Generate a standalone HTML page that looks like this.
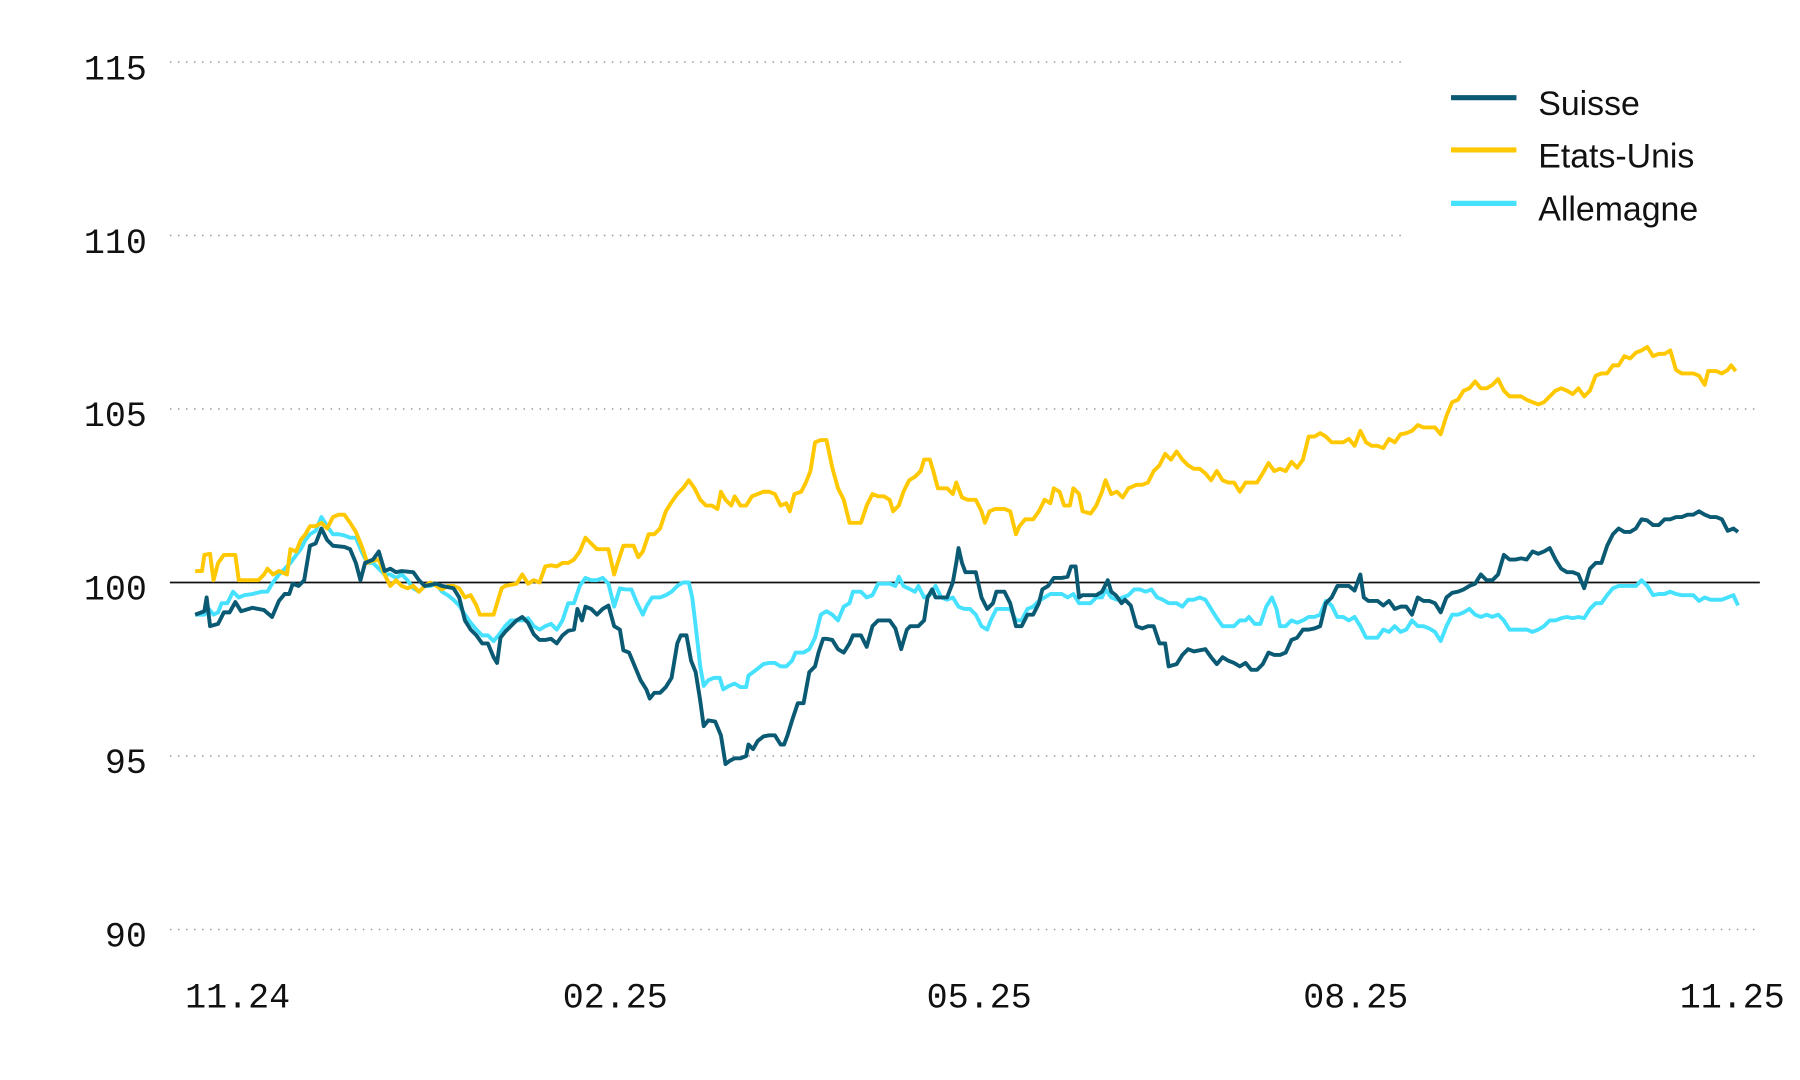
<!DOCTYPE html>
<html><head><meta charset="utf-8"><style>
html,body{margin:0;padding:0;background:#fff;}
svg{display:block}
.t{font-family:"Liberation Mono",monospace;font-size:30.5px;fill:#111}
.l{font-family:"Liberation Sans",sans-serif;font-size:29.5px;fill:#111}
.g{stroke:#999;stroke-width:1.3;stroke-dasharray:1.3 5.7}
.s{fill:none;stroke-width:3.4;stroke-linejoin:round}
</style></head><body>
<svg width="1800" height="1080" viewBox="0 0 1568 940" preserveAspectRatio="none">
<line class="g" x1="148" y1="54" x2="1225" y2="54"/>
<line class="g" x1="148" y1="205" x2="1225" y2="205"/>
<line class="g" x1="148" y1="356" x2="1533" y2="356"/>
<line class="g" x1="148" y1="658" x2="1533" y2="658"/>
<line class="g" x1="148" y1="809" x2="1533" y2="809"/>
<line x1="148" y1="507" x2="1533" y2="507" stroke="#111" stroke-width="1.5"/>
<g class="t" text-anchor="end">
<text x="128" y="69">115</text><text x="128" y="220">110</text><text x="128" y="371">105</text>
<text x="128" y="522">100</text><text x="128" y="673">95</text><text x="128" y="824">90</text>
</g>
<g class="t" text-anchor="middle">
<text x="207" y="877">11.24</text><text x="536" y="877">02.25</text><text x="853" y="877">05.25</text>
<text x="1181" y="877">08.25</text><text x="1509" y="877">11.25</text>
</g>
<polyline class="s" stroke="#45e1ff" points="170,535 178,535 182,530 186,535 190,533 193,525 198,525 203,515 208,520 213,518 220,517 228,515 233,515 237,508 243,500 248,495 253,490 258,483 262,478 266,470 270,465 275,462 280,450 285,458 290,465 295,465 300,466 305,468 310,468 315,480 320,490 325,490 330,495 335,500 340,500 345,503 350,500 355,505 360,512 365,515 370,510 375,510 380,508 385,515 390,518 395,522 400,527 405,535 410,542 415,548 420,553 425,553 430,558 435,552 440,545 445,540 450,540 455,540 460,538 465,545 470,548 475,545 480,543 485,548 490,540 495,525 500,525 505,510 510,503 515,505 520,505 525,503 530,508 535,528 540,512 545,513 550,513 555,525 560,535 563,528 568,520 575,520 580,518 585,515 590,510 595,507 600,507 603,520 606,545 610,580 613,597 617,592 622,590 627,590 630,600 635,597 640,595 645,598 650,598 652,588 656,585 660,582 665,578 670,577 675,577 680,580 685,580 690,575 693,568 700,568 705,565 710,555 715,535 720,532 725,535 730,540 735,528 740,525 743,515 750,515 755,520 760,518 765,508 770,508 775,508 780,510 783,502 787,510 793,513 797,515 800,510 805,520 810,518 815,510 820,520 825,522 830,520 835,528 840,530 845,530 850,535 855,545 860,548 863,540 868,530 875,530 880,530 885,540 890,540 895,530 900,528 905,523 910,520 915,517 920,517 925,517 930,520 935,517 940,525 945,525 950,525 955,520 960,520 963,513 968,520 973,522 978,520 983,518 988,513 993,513 998,515 1003,513 1008,520 1013,522 1018,525 1025,525 1030,528 1035,522 1040,522 1045,520 1050,522 1055,530 1060,538 1065,545 1070,545 1075,545 1080,540 1085,540 1088,537 1093,543 1098,543 1103,528 1108,520 1112,530 1115,545 1120,545 1125,540 1130,542 1135,540 1140,537 1145,537 1150,535 1155,523 1160,527 1165,537 1170,537 1175,540 1180,537 1185,545 1190,555 1195,555 1200,555 1205,548 1210,550 1215,545 1220,550 1225,548 1230,540 1235,545 1240,545 1245,547 1250,550 1255,558 1260,545 1265,535 1270,535 1275,533 1280,530 1285,535 1290,537 1295,535 1300,537 1305,535 1310,540 1315,548 1320,548 1325,548 1330,548 1335,550 1340,548 1345,545 1350,540 1355,540 1360,538 1365,537 1370,538 1375,537 1380,538 1385,530 1390,525 1395,525 1400,518 1405,512 1410,510 1415,510 1420,510 1425,510 1430,505 1435,510 1440,518 1445,517 1450,517 1455,515 1460,517 1465,518 1470,518 1475,518 1480,523 1485,520 1490,522 1495,522 1500,522 1505,520 1510,518 1514,527"/>
<polyline class="s" stroke="#ffc800" points="170,497 176,497 178,483 183,482 186,505 190,490 195,483 205,483 208,505 215,505 225,505 230,500 233,495 238,500 243,497 250,500 253,478 258,480 262,470 266,465 270,458 275,458 280,455 285,460 290,450 295,448 300,448 305,455 310,463 315,475 320,490 325,488 330,487 335,500 340,510 345,505 350,510 355,512 360,510 365,515 370,510 375,507 380,510 385,513 390,510 395,510 400,512 405,520 410,518 415,527 418,535 425,535 430,535 433,525 437,512 440,510 450,508 455,500 460,508 465,505 470,507 475,493 480,492 485,493 490,490 495,490 500,487 505,480 510,468 515,473 520,478 525,478 530,478 535,500 538,490 543,475 547,475 552,475 556,485 560,480 565,465 570,465 575,460 580,445 585,437 590,430 595,425 600,418 605,425 610,435 615,440 620,440 625,443 628,428 632,435 637,440 640,432 645,440 650,440 655,432 660,430 665,428 670,428 675,430 680,440 685,438 688,445 692,430 698,428 702,420 706,410 710,385 715,383 720,383 725,407 730,425 735,435 740,455 745,455 750,455 755,440 760,430 765,432 770,432 775,435 778,445 783,440 787,428 792,418 797,415 802,410 805,400 810,400 813,410 817,425 820,425 825,425 830,430 833,420 838,433 843,435 850,435 855,445 858,455 862,445 867,443 875,443 880,445 885,465 888,458 893,452 900,452 905,445 910,435 915,438 918,425 923,428 927,440 932,440 935,425 940,430 943,445 950,447 955,440 960,428 963,418 968,430 973,428 978,433 983,425 990,422 995,422 1000,420 1005,410 1010,405 1015,395 1020,400 1025,393 1030,400 1035,405 1040,408 1045,408 1050,412 1055,418 1060,410 1065,418 1070,420 1075,420 1080,428 1085,420 1090,420 1095,420 1100,412 1105,403 1110,410 1115,408 1120,410 1125,402 1130,407 1135,400 1140,380 1145,380 1150,377 1155,380 1160,385 1165,385 1170,385 1175,382 1180,388 1185,375 1190,385 1195,388 1200,388 1205,390 1210,382 1215,385 1220,378 1225,377 1230,375 1235,370 1240,372 1245,372 1250,372 1255,378 1260,362 1265,350 1270,348 1275,340 1280,338 1285,332 1290,338 1295,338 1300,335 1305,330 1310,340 1315,345 1320,345 1325,345 1330,348 1335,350 1340,352 1345,350 1350,345 1355,340 1360,338 1365,340 1370,343 1375,338 1380,345 1385,340 1390,327 1395,325 1400,325 1405,318 1410,318 1415,310 1420,312 1425,307 1430,305 1435,302 1440,310 1445,308 1450,308 1455,305 1460,322 1465,325 1470,325 1475,325 1480,327 1485,335 1488,323 1495,323 1500,325 1505,322 1508,318 1512,323"/>
<polyline class="s" stroke="#0b5a74" points="170,535 178,532 180,520 183,545 190,543 195,533 200,533 205,524 210,532 220,529 230,531 237,537 243,523 248,517 252,517 255,508 260,510 265,505 270,475 275,473 280,460 285,470 290,475 300,476 305,478 310,490 314,505 318,490 325,487 330,480 335,497 340,495 345,498 350,497 360,498 365,505 370,510 380,508 385,510 395,512 400,520 405,540 410,548 415,553 420,560 425,560 430,572 433,577 436,555 440,550 445,545 450,540 455,537 460,542 465,552 470,557 475,557 480,556 485,560 490,553 495,549 500,548 503,530 507,540 510,528 515,530 520,535 525,530 530,527 535,545 540,548 543,566 548,568 553,580 558,592 563,600 566,608 570,603 575,603 580,598 585,590 590,560 593,553 598,553 602,575 606,585 610,610 613,632 617,627 623,628 628,640 632,665 636,662 640,660 645,660 650,658 652,648 656,652 660,645 665,641 670,640 675,640 680,648 683,648 686,640 690,627 695,612 700,612 705,585 710,580 713,568 717,556 720,556 725,557 730,565 735,568 740,560 743,553 750,553 755,563 760,545 765,540 770,540 775,540 780,547 785,565 790,548 793,545 800,545 805,540 808,520 812,513 815,520 820,520 825,520 830,507 833,490 835,477 838,490 841,498 845,498 850,498 855,520 860,530 865,525 868,515 875,515 880,525 885,545 890,545 895,535 900,535 905,525 908,513 913,510 918,503 925,503 930,502 933,493 937,493 940,520 943,518 950,518 955,518 960,515 965,505 968,515 972,518 977,525 980,522 985,527 990,545 995,547 1000,545 1005,545 1010,560 1015,560 1018,580 1025,578 1030,570 1035,565 1040,567 1045,566 1050,565 1055,572 1060,578 1065,572 1070,575 1075,577 1080,580 1085,577 1090,583 1095,583 1100,578 1105,568 1110,570 1115,570 1120,568 1125,557 1130,555 1135,548 1140,548 1145,547 1150,545 1155,525 1160,520 1165,510 1170,510 1175,510 1180,514 1185,500 1188,520 1192,523 1200,523 1205,527 1210,523 1215,530 1220,528 1225,528 1230,535 1235,520 1240,523 1245,523 1250,525 1255,533 1260,520 1265,516 1270,515 1275,513 1280,510 1285,508 1290,500 1295,505 1300,505 1305,500 1310,483 1315,487 1320,487 1325,486 1330,487 1335,480 1340,482 1345,480 1350,477 1355,487 1360,495 1365,498 1370,498 1375,500 1380,512 1385,495 1390,490 1395,490 1400,475 1405,465 1410,460 1415,463 1420,463 1425,460 1430,452 1435,453 1440,457 1445,457 1450,452 1455,452 1460,450 1465,450 1470,448 1475,448 1480,445 1485,448 1490,450 1495,450 1500,452 1505,462 1510,460 1514,463"/>
<line x1="1264" y1="85" x2="1321" y2="85" stroke="#0b5a74" stroke-width="4.5"/>
<line x1="1264" y1="130.5" x2="1321" y2="130.5" stroke="#ffc800" stroke-width="4.5"/>
<line x1="1264" y1="177" x2="1321" y2="177" stroke="#45e1ff" stroke-width="4.5"/>
<text class="l" x="1340" y="100">Suisse</text>
<text class="l" x="1340" y="146">Etats-Unis</text>
<text class="l" x="1340" y="192">Allemagne</text>
</svg>
</body></html>
